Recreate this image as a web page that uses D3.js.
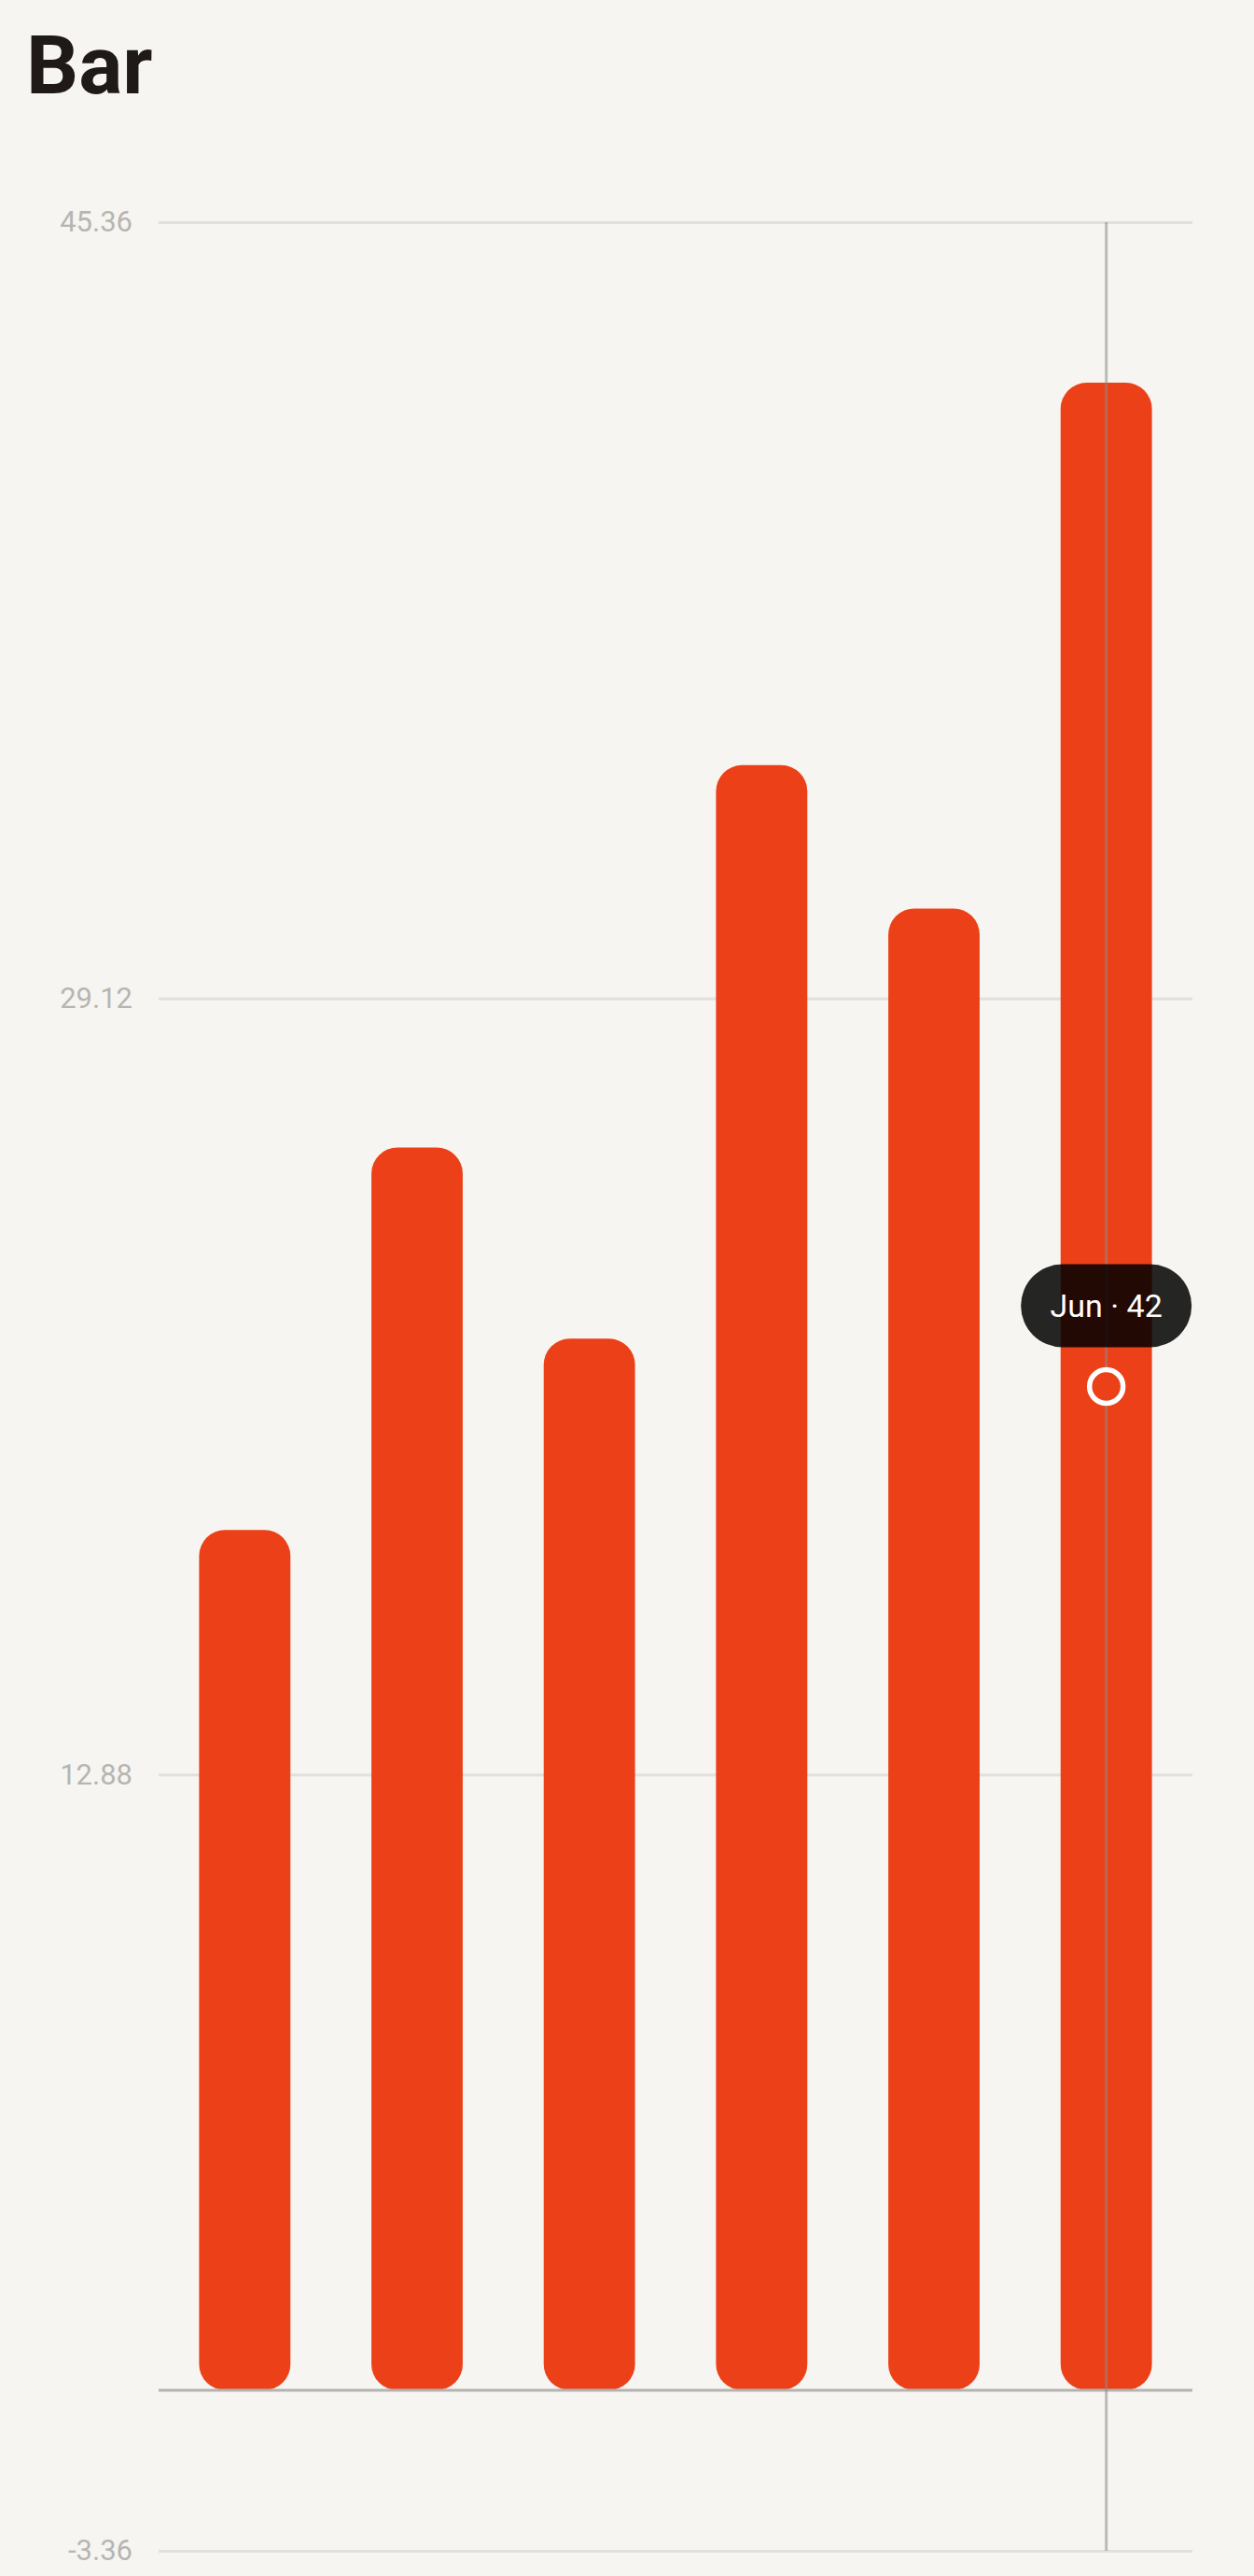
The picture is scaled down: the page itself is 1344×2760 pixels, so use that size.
<!DOCTYPE html>
<html>
<head>
<meta charset="utf-8">
<script src="https://cdn.jsdelivr.net/npm/d3@7/dist/d3.min.js"></script>
<style>
  html, body { margin: 0; padding: 0; background: #f6f5f1; }
  svg { display: block; }
</style>
</head>
<body>
<svg id="chart" width="1344" height="2760"></svg>
<script>
// ---- data ----
const title = "Bar";
const categories = ["Jan", "Feb", "Mar", "Apr", "May", "Jun"];
const values = [18, 26, 22, 34, 31, 42];
const yDomain = [-3.36, 45.36];
const tickValues = [-3.36, 12.88, 29.12, 45.36];
const tickLabels = ["-3.36", "12.88", "29.12", "45.36"];
const hoverIndex = 5;      // hovered category (Jun)
const pointerValue = 21;   // pointer position in data units

// ---- layout ----
const W = 1344, H = 2760;
const plot = { left: 170, right: 1278, top: 238, bottom: 2733 };
const barColor = "#ec4019";
const font = "Roboto, 'Noto Sans', sans-serif";

const svg = d3.select("#chart");
svg.append("rect").attr("width", W).attr("height", H).attr("fill", "#f6f5f1");

svg.append("text")
  .attr("x", 28).attr("y", 100)
  .attr("font-family", font).attr("font-weight", 700).attr("font-size", 88)
  .attr("fill", "#1f1a17")
  .text(title);

const x = d3.scaleBand().domain(categories).range([plot.left, plot.right])
  .paddingInner(0.47).paddingOuter(0.235);
const y = d3.scaleLinear().domain(yDomain).range([plot.bottom, plot.top]);

// gridlines + tick labels via axis
const axis = d3.axisLeft(y).tickValues(tickValues)
  .tickFormat((d, i) => tickLabels[i])
  .tickSize(-(plot.right - plot.left)).tickPadding(28);
const gAxis = svg.append("g").attr("transform", `translate(${plot.left},0)`).call(axis);
gAxis.select(".domain").remove();
gAxis.selectAll(".tick line").attr("stroke", "#e2e0dc").attr("stroke-width", 3);
gAxis.selectAll(".tick text")
  .attr("font-family", font).attr("font-size", 31).attr("fill", "#b7b5b2");

// bars
const r = 28;
svg.append("g").selectAll("rect").data(values).join("rect")
  .attr("x", (d, i) => x(categories[i]))
  .attr("width", x.bandwidth())
  .attr("y", d => y(d))
  .attr("height", d => y(0) - y(d))
  .attr("rx", r).attr("ry", r)
  .attr("fill", barColor);

// zero baseline
svg.append("line")
  .attr("x1", plot.left).attr("x2", plot.right)
  .attr("y1", y(0)).attr("y2", y(0))
  .attr("stroke", "#b5b3b0").attr("stroke-width", 3);

// hover crosshair
const cx = x(categories[hoverIndex]) + x.bandwidth() / 2;
const cy = y(pointerValue);
svg.append("line")
  .attr("x1", cx).attr("x2", cx)
  .attr("y1", plot.top).attr("y2", plot.bottom)
  .attr("stroke", "#8a8a8a").attr("stroke-opacity", 0.55).attr("stroke-width", 3);

// tooltip
const tipW = 183, tipH = 89;
const tipY = cy - 42 - tipH;
svg.append("rect")
  .attr("x", cx - tipW / 2).attr("y", tipY)
  .attr("width", tipW).attr("height", tipH)
  .attr("rx", tipH / 2).attr("ry", tipH / 2)
  .attr("fill", "#000").attr("fill-opacity", 0.85);
svg.append("text")
  .attr("x", cx).attr("y", tipY + tipH / 2)
  .attr("dy", "0.36em")
  .attr("text-anchor", "middle")
  .attr("font-family", font).attr("font-size", 34).attr("fill", "#ffffff")
  .text(`${categories[hoverIndex]} · ${values[hoverIndex]}`);

// pointer circle
svg.append("circle")
  .attr("cx", cx).attr("cy", cy).attr("r", 18)
  .attr("fill", barColor).attr("stroke", "#ffffff").attr("stroke-width", 5.5);
</script>
</body>
</html>
